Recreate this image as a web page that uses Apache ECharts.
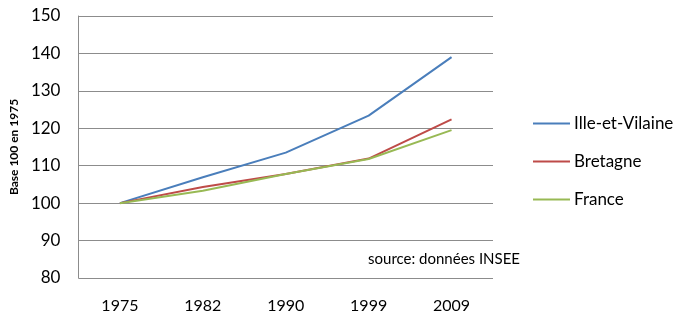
<!DOCTYPE html>
<html>
<head>
<meta charset="utf-8">
<script src="https://cdn.jsdelivr.net/npm/echarts@6/dist/echarts.min.js"></script>
<style>
  html, body { margin: 0; padding: 0; background: #fff; }
  #echart { width: 675px; height: 314px; }
</style>
</head>
<body>
<div id="echart"></div>
<script>
// values (base 100 in 1975)
var years = ['1975', '1982', '1990', '1999', '2009'];
var illeEtVilaine = [100, 106.9, 113.5, 123.4, 139.0];
var bretagne = [100, 104.3, 107.8, 111.9, 122.4];
var france = [100, 103.3, 107.8, 111.8, 119.5];

var fontName = 'Lato';

var eChart = echarts.init(document.getElementById('echart'));

function lineSerie(name, data, color) {
	return {
		name: name,
		type: 'line',
		data: data,
		symbol: 'none',
		lineStyle: { color: color, width: 2 },
		itemStyle: { color: color }
	};
}

var eChartOption = {
	animation: false,
	textStyle: { fontFamily: fontName },
	grid: {
		left: 78,
		right: 182,
		top: 16,
		bottom: 35
	},
	legend: {
		orient: 'vertical',
		left: 528,
		top: 110,
		itemWidth: 37,
		itemHeight: 2,
		itemGap: 21,
		icon: 'rect',
		textStyle: { fontFamily: fontName, fontSize: 17, color: '#000', padding: [0, 0, 0, -1] },
		data: ['Ille-et-Vilaine', 'Bretagne', 'France']
	},
	xAxis: {
		type: 'category',
		data: years,
		boundaryGap: true,
		axisLine: { show: false },
		axisTick: { show: false },
		axisLabel: { fontFamily: fontName, fontSize: 16, color: '#000', margin: 20 }
	},
	yAxis: {
		type: 'value',
		min: 80,
		max: 150,
		interval: 10,
		name: 'Base 100 en 1975',
		nameLocation: 'center',
		nameGap: 51,
		nameTextStyle: { fontFamily: fontName, fontSize: 12, fontWeight: 'bold', color: '#000' },
		axisLine: { show: true, lineStyle: { color: '#8c8c8c', width: 1 } },
		axisTick: { show: false },
		axisLabel: { fontFamily: fontName, fontSize: 17, color: '#000', margin: 18 },
		splitLine: { show: true, lineStyle: { color: '#8c8c8c', width: 1 } }
	},
	graphic: [{
		type: 'text',
		right: 155,
		top: 252,
		style: {
			text: 'source: données INSEE',
			font: '15px ' + fontName,
			fill: '#000'
		}
	}],
	series: [
		lineSerie('Ille-et-Vilaine', illeEtVilaine, '#4a7ebb'),
		lineSerie('Bretagne', bretagne, '#be4b48'),
		lineSerie('France', france, '#98b954')
	]
};

eChart.setOption(eChartOption);
</script>
</body>
</html>
